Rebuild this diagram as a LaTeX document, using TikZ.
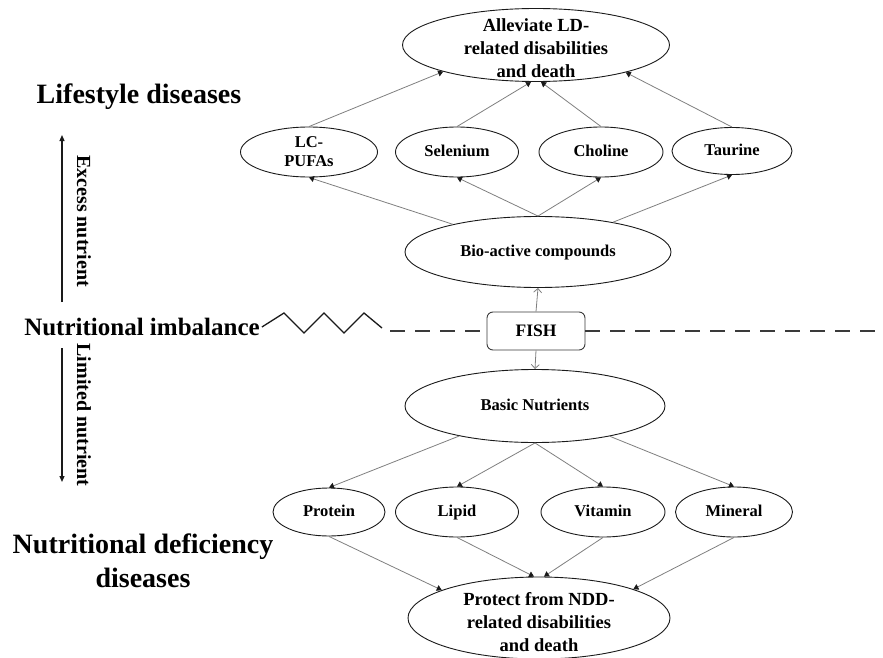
\documentclass[tikz,border=0pt]{standalone}
\usepackage{fontspec}
\setmainfont{Liberation Serif}
\usetikzlibrary{arrows.meta,shapes.geometric}
\definecolor{Ink}{HTML}{1A1A1A}
\definecolor{Wire}{HTML}{7F7F7F}
\definecolor{Dash}{HTML}{3A3A3A}
\newcommand{\fsz}[2]{\fontsize{#1}{#2}\selectfont\bfseries}
\tikzset{
  outcome/.style={
    ellipse, draw=Ink, line width=0.9pt,
    minimum width=267pt, minimum height=73pt, inner sep=0pt
  },
  hub/.style={
    ellipse, draw=Ink, line width=0.9pt,
    minimum width=263pt, minimum height=71pt, inner sep=0pt,
    text height=11.5pt, text depth=3pt, font=\fsz{16.5}{19}
  },
  item/.style={
    ellipse, draw=Ink, line width=0.9pt,
    minimum width=123pt, minimum height=50pt, inner sep=0pt,
    text height=11.5pt, text depth=3pt,
    align=center, font=\fsz{16.5}{19}
  },
  fishbox/.style={
    rounded corners=6pt, draw=Dash, line width=0.9pt,
    minimum width=98pt, minimum height=38pt, font=\fsz{17.5}{20}
  },
  bigtext/.style={align=center, font=\fsz{18.5}{23}},
  side/.style={align=center, inner sep=2pt, font=\fsz{28}{34}},
  sidenote/.style={rotate=-90, inner sep=0pt, font=\fsz{20}{24}},
  link/.style={draw=Wire, line width=0.8pt, -{Triangle[length=5pt,width=6pt,color=Ink]}},
  fishlink/.style={draw=Wire, line width=0.8pt, -{Straight Barb[length=4pt,width=8pt]}},
  trend/.style={draw=Ink, line width=1.2pt, -{Triangle[length=6pt,width=5pt]}},
  dashline/.style={draw=Dash, line width=2.2pt, dash pattern=on 15pt off 10pt},
  zigzag/.style={draw=Ink, line width=1.3pt}
}

\begin{document}
\begin{tikzpicture}[x=1pt,y=-1pt]
  \useasboundingbox (0,0) rectangle (883,658);

  \node[outcome] (ld) at (536,45) {};
  \node[bigtext,yshift=-3pt] (ldtext) at (ld) {Alleviate LD-\\related disabilities\\and death};
  \node[item,minimum width=137pt,text height=,text depth=] (pufa) at (309,152) {LC-\\PUFAs};
  \node[item] (sel) at (457,152) {Selenium};
  \node[item,minimum width=124pt] (cho) at (601,152) {Choline};
  \node[item,minimum width=120pt,minimum height=47pt] (tau) at (732,151) {Taurine};
  \node[hub,minimum width=266pt] (bio) at (538,252) {Bio-active compounds};

  \node[fishbox] (fish) at (536,331) {FISH};

  \node[hub,minimum width=260pt,minimum height=73pt] (basic) at (535,406) {Basic Nutrients};
  \node[item,minimum width=112pt,minimum height=48pt] (prot) at (329,512) {Protein};
  \node[item] (lip) at (457,512) {Lipid};
  \node[item,minimum width=124pt] (vit) at (603,512) {Vitamin};
  \node[item,minimum width=117pt] (mine) at (734,512) {Mineral};
  \node[outcome,minimum width=262pt,minimum height=82pt] (ndd) at (539,618) {};
  \node[bigtext,yshift=-4pt] (nddtext) at (ndd) {Protect from NDD-\\related disabilities\\and death};

  \draw[link] (pufa.north) -- (ld.-164);
  \draw[link] (sel.north) -- ([xshift=-5pt]ld.south);
  \draw[link] (cho.north) -- ([xshift=5pt]ld.south);
  \draw[link] (tau.north) -- (ld.-17);
  \draw[link] (bio) -- (pufa.south);
  \draw[link] (bio.north) -- (sel.south);
  \draw[link] (bio.north) -- (cho.south);
  \draw[link] (bio) -- (tau.south);

  \draw[fishlink] (fish.north) -- (bio.south);
  \draw[fishlink] (fish.south) -- (basic.north);

  \draw[link] (basic) -- (prot.north);
  \draw[link] (basic.south) -- (lip.north);
  \draw[link] (basic.south) -- (vit.north);
  \draw[link] (basic) -- (mine.north);
  \draw[link] (prot.south) -- (ndd.164);
  \draw[link] (lip.south) -- ([xshift=-5pt]ndd.north);
  \draw[link] (vit.south) -- ([xshift=5pt]ndd.north);
  \draw[link] (mine.south) -- (ndd.17);

  \node[side] (life) at (139,97) {Lifestyle diseases};
  \node[side,font=\fsz{25}{30}] (imbal) at (142,327) {Nutritional imbalance};
  \node[side] (defic) at (143,561) {Nutritional deficiency\\diseases};

  \coordinate (exS) at (62,302);
  \coordinate (exE) at (62,135);
  \draw[trend] (exS) -- (exE);
  \node[sidenote] (exlab) at (84,221) {Excess nutrient};
  \coordinate (liS) at (62,348);
  \coordinate (liE) at (62,482);
  \draw[trend] (liS) -- (liE);
  \node[sidenote] (lilab) at (84,415) {Limited nutrient};

  \draw[zigzag] (imbal.east) -- (284,313) -- (304,333) -- (324,313)
    -- (344,333) -- (364,313) -- (382,328);
  \coordinate (dashL) at (390,331);
  \coordinate (dashR) at (883,331);
  \draw[dashline] (dashL) -- (fish.west);
  \draw[dashline] (fish.east) -- (dashR);
\end{tikzpicture}
\end{document}
